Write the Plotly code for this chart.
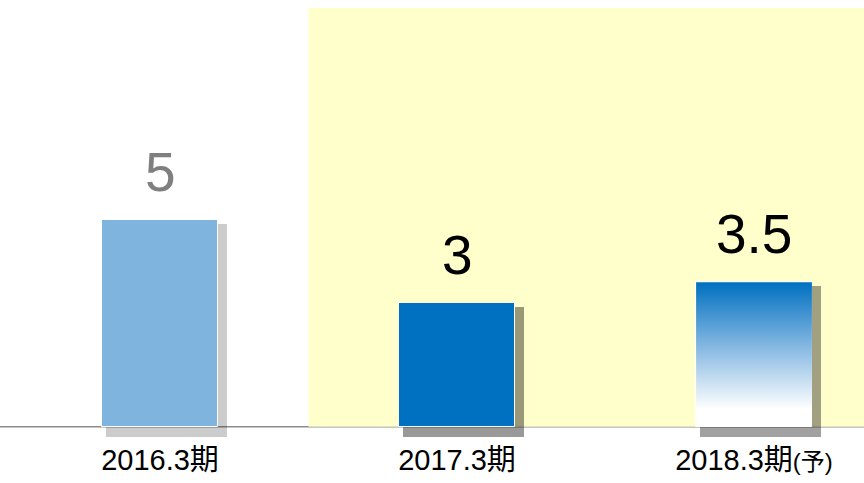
import plotly.graph_objects as go

# ---- data ----
categories = ["2016.3期", "2017.3期", "2018.3期(予)"]
values = [5, 3, 3.5]
value_labels = ["5", "3", "3.5"]

# ---- style ----
bar_colors = ["#7EB4DD", "#0070C0", "rgba(0,0,0,0)"]
shadow_colors = ["rgba(0,0,0,0.20)", "rgba(0,0,0,0.40)", "rgba(0,0,0,0.37)"]
label_colors = ["#7F7F7F", "#000000", "#000000"]
BAR_W = 0.39
PX_X = 297.0   # px per category unit
PX_Y = 41.3    # px per value unit
NUM_FONT = "Liberation Sans, Arial, sans-serif"
CAT_FONT = "Liberation Sans, Arial, Noto Sans CJK JP, sans-serif"

xs = list(range(len(categories)))

fig = go.Figure()

# shadows (offset right/down from each bar)
sh_dx0, sh_dx1 = 4 / PX_X, 9 / PX_X
sh_top, sh_bot = 4 / PX_Y, 10 / PX_Y
fig.add_trace(go.Bar(
    x=xs, y=[v - sh_top + sh_bot for v in values], base=[-sh_bot] * len(values),
    width=BAR_W + sh_dx1 - sh_dx0, offset=-BAR_W / 2 + sh_dx0,
    marker=dict(color=shadow_colors, line=dict(width=0)),
    hoverinfo="skip", showlegend=False,
))

# gradient fill for the forecast bar
gi = 2
gx0, gx1 = xs[gi] - BAR_W / 2, xs[gi] + BAR_W / 2
fig.add_trace(go.Scatter(
    x=[gx0, gx1, gx1, gx0, gx0], y=[0, 0, values[gi], values[gi], 0],
    mode="lines", line=dict(width=0), fill="toself",
    fillgradient=dict(type="vertical",
                      colorscale=[[0, "#FFFFFF"], [0.12, "#FFFFFF"],
                                  [0.55, "#86B8E2"], [1, "#0070C0"]]),
    hoverinfo="skip", showlegend=False,
))

# bars
fig.add_trace(go.Bar(
    x=xs, y=values, width=BAR_W,
    marker=dict(color=bar_colors, line=dict(color="#FFFFFF", width=1)),
    hoverinfo="skip", showlegend=False,
))

# value labels
for x, v, t, c in zip(xs, values, value_labels, label_colors):
    fig.add_annotation(x=x, y=v, text=t, showarrow=False, yanchor="bottom",
                       yshift=15, font=dict(family=NUM_FONT, size=55, color=c))

ticktext = [c.replace("(予)", "<span style='font-size:24px'>(予)</span>") for c in categories]

x_lo = -160 / PX_X
x_hi = (864 - 160) / PX_X
y_top = (426.7 - 8) / PX_Y
y_bot = -(440 - 426.7) / PX_Y

fig.update_layout(
    width=864, height=483,
    margin=dict(l=0, r=0, t=8, b=43),
    paper_bgcolor="#FFFFFF", plot_bgcolor="#FFFFFF",
    barmode="overlay", bargap=0,
    xaxis=dict(range=[x_lo, x_hi], tickvals=xs, ticktext=ticktext,
               showgrid=False, zeroline=False, showline=False, ticks="",
               tickfont=dict(family=CAT_FONT, size=29, color="#000000"),
               fixedrange=True),
    yaxis=dict(range=[y_bot, y_top], visible=False, fixedrange=True),
    shapes=[
        dict(type="rect", xref="x", yref="y", x0=0.5, x1=x_hi, y0=0, y1=y_top,
             fillcolor="#FFFFCC", line=dict(width=0), layer="below"),
        dict(type="line", xref="paper", yref="y", x0=0, x1=1, y0=0, y1=0,
             line=dict(color="#8C8C8C", width=1.5), layer="below"),
    ],
)

fig.write_html("out.html")
